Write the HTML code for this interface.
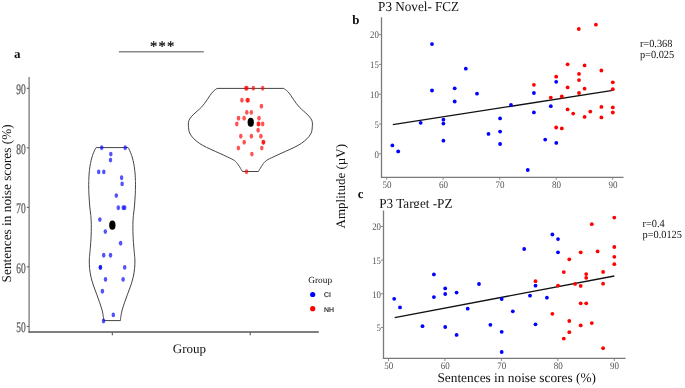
<!DOCTYPE html><html><head><meta charset="utf-8"><style>html,body{margin:0;padding:0;background:#fff;width:685px;height:388px;overflow:hidden}svg{display:block;text-rendering:geometricPrecision;will-change:transform;filter:blur(0.3px)}</style></head><body>
<svg width="685" height="388" viewBox="0 0 685 388" font-family="Liberation Serif, serif">
<rect width="685" height="388" fill="#fff"/>
<text x="14.1" y="58" font-size="13" font-weight="bold" fill="#111">a</text>
<line x1="118.9" y1="51.8" x2="203.8" y2="51.8" stroke="#8a8a8a" stroke-width="1.4"/>
<text x="162.8" y="50.7" font-size="14.5" fill="#111" stroke="#111" stroke-width="0.3" text-anchor="middle" letter-spacing="1.2">***</text>
<line x1="29.1" y1="77" x2="29.1" y2="332.6" stroke="#7a7a7a" stroke-width="1.3"/>
<line x1="28.5" y1="332.0" x2="318.8" y2="332.0" stroke="#555" stroke-width="1.3"/>
<line x1="26.8" y1="88.30" x2="29" y2="88.30" stroke="#555" stroke-width="1"/>
<text font-size="14.5" fill="#666" stroke="#666" stroke-width="0.35" text-anchor="end" transform="translate(25.6,94.10) scale(0.65,1)">90</text>
<line x1="26.8" y1="147.83" x2="29" y2="147.83" stroke="#555" stroke-width="1"/>
<text font-size="14.5" fill="#666" stroke="#666" stroke-width="0.35" text-anchor="end" transform="translate(25.6,153.63) scale(0.65,1)">80</text>
<line x1="26.8" y1="207.36" x2="29" y2="207.36" stroke="#555" stroke-width="1"/>
<text font-size="14.5" fill="#666" stroke="#666" stroke-width="0.35" text-anchor="end" transform="translate(25.6,213.16) scale(0.65,1)">70</text>
<line x1="26.8" y1="266.89" x2="29" y2="266.89" stroke="#555" stroke-width="1"/>
<text font-size="14.5" fill="#666" stroke="#666" stroke-width="0.35" text-anchor="end" transform="translate(25.6,272.69) scale(0.65,1)">60</text>
<line x1="26.8" y1="326.42" x2="29" y2="326.42" stroke="#555" stroke-width="1"/>
<text font-size="14.5" fill="#666" stroke="#666" stroke-width="0.35" text-anchor="end" transform="translate(25.6,332.22) scale(0.65,1)">50</text>
<line x1="112.3" y1="332.5" x2="112.3" y2="335.3" stroke="#444" stroke-width="1"/>
<line x1="250.2" y1="332.5" x2="250.2" y2="335.3" stroke="#444" stroke-width="1"/>
<text x="172.8" y="353.1" font-size="13" fill="#111">Group</text>
<text font-size="13.3" fill="#111" transform="translate(11.2,282.4) rotate(-90)">Sentences in noise scores (%)</text>
<path d="M128.10,147.60 C128.35,148.05 129.00,148.98 129.60,150.30 C130.20,151.62 131.12,153.78 131.70,155.50 C132.28,157.22 132.67,158.72 133.10,160.60 C133.53,162.48 133.97,164.57 134.30,166.80 C134.63,169.03 134.92,171.75 135.10,174.00 C135.28,176.25 135.33,178.30 135.40,180.30 C135.47,182.30 135.53,183.42 135.50,186.00 C135.47,188.58 135.37,192.47 135.20,195.80 C135.03,199.13 134.80,202.72 134.50,206.00 C134.20,209.28 133.67,212.38 133.40,215.50 C133.13,218.62 132.93,220.83 132.90,224.70 C132.87,228.57 132.97,234.05 133.20,238.70 C133.43,243.35 134.02,249.05 134.30,252.60 C134.58,256.15 134.85,257.37 134.90,260.00 C134.95,262.63 134.90,265.48 134.60,268.40 C134.30,271.32 133.77,274.57 133.10,277.50 C132.43,280.43 131.53,283.20 130.60,286.00 C129.67,288.80 128.52,291.52 127.50,294.30 C126.48,297.08 125.43,299.92 124.50,302.70 C123.57,305.48 122.53,308.48 121.90,311.00 C121.27,313.52 120.94,316.20 120.70,317.80 C120.46,319.40 120.49,320.13 120.45,320.60 L103.75,320.60 C103.71,320.13 103.74,319.40 103.50,317.80 C103.26,316.20 102.93,313.52 102.30,311.00 C101.67,308.48 100.63,305.48 99.70,302.70 C98.77,299.92 97.72,297.08 96.70,294.30 C95.68,291.52 94.53,288.80 93.60,286.00 C92.67,283.20 91.77,280.43 91.10,277.50 C90.43,274.57 89.90,271.32 89.60,268.40 C89.30,265.48 89.25,262.63 89.30,260.00 C89.35,257.37 89.62,256.15 89.90,252.60 C90.18,249.05 90.77,243.35 91.00,238.70 C91.23,234.05 91.33,228.57 91.30,224.70 C91.27,220.83 91.07,218.62 90.80,215.50 C90.53,212.38 90.00,209.28 89.70,206.00 C89.40,202.72 89.17,199.13 89.00,195.80 C88.83,192.47 88.73,188.58 88.70,186.00 C88.67,183.42 88.73,182.30 88.80,180.30 C88.87,178.30 88.92,176.25 89.10,174.00 C89.28,171.75 89.57,169.03 89.90,166.80 C90.23,164.57 90.67,162.48 91.10,160.60 C91.53,158.72 91.92,157.22 92.50,155.50 C93.08,153.78 94.00,151.62 94.60,150.30 C95.20,148.98 95.85,148.05 96.10,147.60 Z" fill="none" stroke="#444" stroke-width="1.0"/>
<path d="M283.80,88.40 C284.43,88.90 286.45,90.25 287.60,91.40 C288.75,92.55 289.75,94.00 290.70,95.30 C291.65,96.60 292.38,97.87 293.30,99.20 C294.22,100.53 295.18,101.97 296.20,103.30 C297.22,104.63 298.17,105.90 299.40,107.20 C300.63,108.50 302.20,109.82 303.60,111.10 C305.00,112.38 306.57,113.62 307.80,114.90 C309.03,116.18 310.23,117.50 311.00,118.80 C311.77,120.10 312.20,121.20 312.40,122.70 C312.60,124.20 312.33,126.27 312.20,127.80 C312.07,129.33 312.12,130.47 311.60,131.90 C311.08,133.33 310.27,134.90 309.10,136.40 C307.93,137.90 306.43,139.40 304.60,140.90 C302.77,142.40 300.52,144.00 298.10,145.40 C295.68,146.80 292.95,147.97 290.10,149.30 C287.25,150.63 283.82,152.12 281.00,153.40 C278.18,154.68 275.63,155.82 273.20,157.00 C270.77,158.18 268.13,159.27 266.40,160.50 C264.67,161.73 263.83,163.07 262.80,164.40 C261.77,165.73 260.95,167.32 260.20,168.50 C259.45,169.68 258.62,171.00 258.30,171.50 L242.50,171.50 C242.18,171.00 241.35,169.68 240.60,168.50 C239.85,167.32 239.03,165.73 238.00,164.40 C236.97,163.07 236.13,161.73 234.40,160.50 C232.67,159.27 230.03,158.18 227.60,157.00 C225.17,155.82 222.62,154.68 219.80,153.40 C216.98,152.12 213.55,150.63 210.70,149.30 C207.85,147.97 205.12,146.80 202.70,145.40 C200.28,144.00 198.03,142.40 196.20,140.90 C194.37,139.40 192.87,137.90 191.70,136.40 C190.53,134.90 189.72,133.33 189.20,131.90 C188.68,130.47 188.73,129.33 188.60,127.80 C188.47,126.27 188.20,124.20 188.40,122.70 C188.60,121.20 189.03,120.10 189.80,118.80 C190.57,117.50 191.77,116.18 193.00,114.90 C194.23,113.62 195.80,112.38 197.20,111.10 C198.60,109.82 200.17,108.50 201.40,107.20 C202.63,105.90 203.58,104.63 204.60,103.30 C205.62,101.97 206.58,100.53 207.50,99.20 C208.42,97.87 209.15,96.60 210.10,95.30 C211.05,94.00 212.05,92.55 213.20,91.40 C214.35,90.25 216.37,88.90 217.00,88.40 Z" fill="none" stroke="#444" stroke-width="1.0"/>
<ellipse cx="101.7" cy="147.7" rx="1.75" ry="2.45" fill="#0000ff" fill-opacity="0.68"/>
<ellipse cx="125.2" cy="147.7" rx="1.75" ry="2.45" fill="#0000ff" fill-opacity="0.68"/>
<ellipse cx="110.8" cy="154.1" rx="1.75" ry="2.45" fill="#0000ff" fill-opacity="0.68"/>
<ellipse cx="110.5" cy="160.1" rx="1.75" ry="2.45" fill="#0000ff" fill-opacity="0.68"/>
<ellipse cx="98.7" cy="171.9" rx="1.75" ry="2.45" fill="#0000ff" fill-opacity="0.68"/>
<ellipse cx="103.8" cy="171.9" rx="1.75" ry="2.45" fill="#0000ff" fill-opacity="0.68"/>
<ellipse cx="121.6" cy="177.7" rx="1.75" ry="2.45" fill="#0000ff" fill-opacity="0.68"/>
<ellipse cx="122.1" cy="183.9" rx="1.75" ry="2.45" fill="#0000ff" fill-opacity="0.68"/>
<ellipse cx="116.3" cy="195.6" rx="1.75" ry="2.45" fill="#0000ff" fill-opacity="0.68"/>
<ellipse cx="118.3" cy="207.7" rx="1.75" ry="2.45" fill="#0000ff" fill-opacity="0.68"/>
<ellipse cx="123.2" cy="207.7" rx="1.75" ry="2.45" fill="#0000ff" fill-opacity="0.68"/>
<ellipse cx="124.7" cy="207.7" rx="1.75" ry="2.45" fill="#0000ff" fill-opacity="0.68"/>
<ellipse cx="99.9" cy="219.6" rx="1.75" ry="2.45" fill="#0000ff" fill-opacity="0.68"/>
<ellipse cx="105.3" cy="231.6" rx="1.75" ry="2.45" fill="#0000ff" fill-opacity="0.68"/>
<ellipse cx="120.6" cy="243.3" rx="1.75" ry="2.45" fill="#0000ff" fill-opacity="0.68"/>
<ellipse cx="103.7" cy="255.3" rx="1.75" ry="2.45" fill="#0000ff" fill-opacity="0.68"/>
<ellipse cx="110.5" cy="255.3" rx="1.75" ry="2.45" fill="#0000ff" fill-opacity="0.68"/>
<ellipse cx="100.4" cy="267.4" rx="1.75" ry="2.45" fill="#0000ff" fill-opacity="0.68"/>
<ellipse cx="100.4" cy="267.4" rx="1.75" ry="2.45" fill="#0000ff" fill-opacity="0.68"/>
<ellipse cx="124.7" cy="267.4" rx="1.75" ry="2.45" fill="#0000ff" fill-opacity="0.68"/>
<ellipse cx="105.5" cy="279.4" rx="1.75" ry="2.45" fill="#0000ff" fill-opacity="0.68"/>
<ellipse cx="123.1" cy="279.4" rx="1.75" ry="2.45" fill="#0000ff" fill-opacity="0.68"/>
<ellipse cx="102.4" cy="291.2" rx="1.75" ry="2.45" fill="#0000ff" fill-opacity="0.68"/>
<ellipse cx="113.3" cy="314.9" rx="1.75" ry="2.45" fill="#0000ff" fill-opacity="0.68"/>
<ellipse cx="103.5" cy="321.0" rx="1.75" ry="2.45" fill="#0000ff" fill-opacity="0.68"/>
<ellipse cx="245.9" cy="88.2" rx="1.75" ry="2.45" fill="#ff0000" fill-opacity="0.68"/>
<ellipse cx="246.9" cy="88.2" rx="1.75" ry="2.45" fill="#ff0000" fill-opacity="0.68"/>
<ellipse cx="253.3" cy="88.2" rx="1.75" ry="2.45" fill="#ff0000" fill-opacity="0.68"/>
<ellipse cx="262.7" cy="88.2" rx="1.75" ry="2.45" fill="#ff0000" fill-opacity="0.68"/>
<ellipse cx="241.9" cy="100.3" rx="1.75" ry="2.45" fill="#ff0000" fill-opacity="0.68"/>
<ellipse cx="247.2" cy="100.3" rx="1.75" ry="2.45" fill="#ff0000" fill-opacity="0.68"/>
<ellipse cx="248.2" cy="100.3" rx="1.75" ry="2.45" fill="#ff0000" fill-opacity="0.68"/>
<ellipse cx="261.4" cy="106.3" rx="1.75" ry="2.45" fill="#ff0000" fill-opacity="0.68"/>
<ellipse cx="246.8" cy="112.4" rx="1.75" ry="2.45" fill="#ff0000" fill-opacity="0.68"/>
<ellipse cx="251.3" cy="112.4" rx="1.75" ry="2.45" fill="#ff0000" fill-opacity="0.68"/>
<ellipse cx="238.5" cy="118.2" rx="1.75" ry="2.45" fill="#ff0000" fill-opacity="0.68"/>
<ellipse cx="244.1" cy="118.2" rx="1.75" ry="2.45" fill="#ff0000" fill-opacity="0.68"/>
<ellipse cx="259.0" cy="118.2" rx="1.75" ry="2.45" fill="#ff0000" fill-opacity="0.68"/>
<ellipse cx="236.8" cy="124.0" rx="1.75" ry="2.45" fill="#ff0000" fill-opacity="0.68"/>
<ellipse cx="258.2" cy="124.0" rx="1.75" ry="2.45" fill="#ff0000" fill-opacity="0.68"/>
<ellipse cx="258.8" cy="124.0" rx="1.75" ry="2.45" fill="#ff0000" fill-opacity="0.68"/>
<ellipse cx="262.7" cy="124.0" rx="1.75" ry="2.45" fill="#ff0000" fill-opacity="0.68"/>
<ellipse cx="258.1" cy="130.3" rx="1.75" ry="2.45" fill="#ff0000" fill-opacity="0.68"/>
<ellipse cx="240.8" cy="136.3" rx="1.75" ry="2.45" fill="#ff0000" fill-opacity="0.68"/>
<ellipse cx="251.4" cy="136.3" rx="1.75" ry="2.45" fill="#ff0000" fill-opacity="0.68"/>
<ellipse cx="260.9" cy="136.3" rx="1.75" ry="2.45" fill="#ff0000" fill-opacity="0.68"/>
<ellipse cx="244.2" cy="142.3" rx="1.75" ry="2.45" fill="#ff0000" fill-opacity="0.68"/>
<ellipse cx="263.2" cy="142.3" rx="1.75" ry="2.45" fill="#ff0000" fill-opacity="0.68"/>
<ellipse cx="263.6" cy="142.3" rx="1.75" ry="2.45" fill="#ff0000" fill-opacity="0.68"/>
<ellipse cx="238.4" cy="148.1" rx="1.75" ry="2.45" fill="#ff0000" fill-opacity="0.68"/>
<ellipse cx="261.8" cy="148.1" rx="1.75" ry="2.45" fill="#ff0000" fill-opacity="0.68"/>
<ellipse cx="251.9" cy="154.1" rx="1.75" ry="2.45" fill="#ff0000" fill-opacity="0.68"/>
<ellipse cx="246.5" cy="171.8" rx="1.75" ry="2.45" fill="#ff0000" fill-opacity="0.68"/>
<ellipse cx="112.35" cy="225.15" rx="3.15" ry="4.55" fill="#000"/>
<ellipse cx="250.75" cy="122.3" rx="3.15" ry="4.55" fill="#000"/>
<text x="308.3" y="282.9" font-size="9.3" fill="#111">Group</text>
<circle cx="312.7" cy="294.5" r="2.6" fill="#0000ff"/>
<circle cx="312.7" cy="308.7" r="2.6" fill="#ff0000"/>
<text x="324" y="297.4" font-size="6.9" fill="#222" stroke="#222" stroke-width="0.18" font-family="Liberation Sans, sans-serif">CI</text>
<text x="324" y="311.9" font-size="6.9" fill="#222" stroke="#222" stroke-width="0.18" font-family="Liberation Sans, sans-serif">NH</text>
<text x="352.3" y="23.8" font-size="12.9" font-weight="bold" fill="#111">b</text>
<text font-size="13.7" fill="#111" transform="translate(378.1,10.5) scale(0.96,1)">P3 Novel- FCZ</text>
<line x1="381.5" y1="17.3" x2="381.5" y2="177.9" stroke="#7a7a7a" stroke-width="1.3"/>
<line x1="380.9" y1="177.4" x2="623.5" y2="177.4" stroke="#7a7a7a" stroke-width="1.3"/>
<line x1="378.8" y1="34.60" x2="381.5" y2="34.60" stroke="#7a7a7a" stroke-width="0.9"/>
<text font-size="10" fill="#555" text-anchor="end" transform="translate(378.8,38.40) scale(0.88,1)">20</text>
<line x1="378.8" y1="64.40" x2="381.5" y2="64.40" stroke="#7a7a7a" stroke-width="0.9"/>
<text font-size="10" fill="#555" text-anchor="end" transform="translate(378.8,68.20) scale(0.88,1)">15</text>
<line x1="378.8" y1="94.20" x2="381.5" y2="94.20" stroke="#7a7a7a" stroke-width="0.9"/>
<text font-size="10" fill="#555" text-anchor="end" transform="translate(378.8,98.00) scale(0.88,1)">10</text>
<line x1="378.8" y1="124.00" x2="381.5" y2="124.00" stroke="#7a7a7a" stroke-width="0.9"/>
<text font-size="10" fill="#555" text-anchor="end" transform="translate(378.8,127.80) scale(0.88,1)">5</text>
<line x1="378.8" y1="153.80" x2="381.5" y2="153.80" stroke="#7a7a7a" stroke-width="0.9"/>
<text font-size="10" fill="#555" text-anchor="end" transform="translate(378.8,157.60) scale(0.88,1)">0</text>
<line x1="386.70" y1="177.4" x2="386.70" y2="179.8" stroke="#7a7a7a" stroke-width="0.9"/>
<text font-size="10" fill="#555" text-anchor="middle" transform="translate(387.00,188.1) scale(0.9,1)">50</text>
<line x1="443.20" y1="177.4" x2="443.20" y2="179.8" stroke="#7a7a7a" stroke-width="0.9"/>
<text font-size="10" fill="#555" text-anchor="middle" transform="translate(443.50,188.1) scale(0.9,1)">60</text>
<line x1="499.70" y1="177.4" x2="499.70" y2="179.8" stroke="#7a7a7a" stroke-width="0.9"/>
<text font-size="10" fill="#555" text-anchor="middle" transform="translate(500.00,188.1) scale(0.9,1)">70</text>
<line x1="556.20" y1="177.4" x2="556.20" y2="179.8" stroke="#7a7a7a" stroke-width="0.9"/>
<text font-size="10" fill="#555" text-anchor="middle" transform="translate(556.50,188.1) scale(0.9,1)">80</text>
<line x1="612.70" y1="177.4" x2="612.70" y2="179.8" stroke="#7a7a7a" stroke-width="0.9"/>
<text font-size="10" fill="#555" text-anchor="middle" transform="translate(613.00,188.1) scale(0.9,1)">90</text>
<line x1="392.8" y1="124.7" x2="612.8" y2="90.4" stroke="#111" stroke-width="1.3"/>
<circle cx="432.0" cy="44.1" r="1.90" fill="#0000ff"/>
<circle cx="465.8" cy="68.7" r="1.90" fill="#0000ff"/>
<circle cx="432.0" cy="90.5" r="1.90" fill="#0000ff"/>
<circle cx="454.7" cy="88.3" r="1.90" fill="#0000ff"/>
<circle cx="477.0" cy="93.7" r="1.90" fill="#0000ff"/>
<circle cx="454.7" cy="101.5" r="1.90" fill="#0000ff"/>
<circle cx="511.0" cy="104.9" r="1.90" fill="#0000ff"/>
<circle cx="500.1" cy="118.4" r="1.90" fill="#0000ff"/>
<circle cx="420.7" cy="122.8" r="1.90" fill="#0000ff"/>
<circle cx="443.4" cy="119.7" r="1.90" fill="#0000ff"/>
<circle cx="443.4" cy="123.6" r="1.90" fill="#0000ff"/>
<circle cx="488.5" cy="133.9" r="1.90" fill="#0000ff"/>
<circle cx="500.1" cy="131.6" r="1.90" fill="#0000ff"/>
<circle cx="443.4" cy="140.7" r="1.90" fill="#0000ff"/>
<circle cx="500.1" cy="144.0" r="1.90" fill="#0000ff"/>
<circle cx="392.4" cy="145.4" r="1.90" fill="#0000ff"/>
<circle cx="398.2" cy="151.4" r="1.90" fill="#0000ff"/>
<circle cx="527.8" cy="170.0" r="1.90" fill="#0000ff"/>
<circle cx="556.2" cy="81.8" r="1.90" fill="#0000ff"/>
<circle cx="533.9" cy="93.0" r="1.90" fill="#0000ff"/>
<circle cx="550.8" cy="106.2" r="1.90" fill="#0000ff"/>
<circle cx="533.9" cy="112.4" r="1.90" fill="#0000ff"/>
<circle cx="545.2" cy="139.6" r="1.90" fill="#0000ff"/>
<circle cx="556.3" cy="142.9" r="1.90" fill="#0000ff"/>
<circle cx="595.9" cy="24.7" r="1.90" fill="#ff0000"/>
<circle cx="578.8" cy="29.0" r="1.90" fill="#ff0000"/>
<circle cx="567.6" cy="64.3" r="1.90" fill="#ff0000"/>
<circle cx="584.6" cy="65.4" r="1.90" fill="#ff0000"/>
<circle cx="601.4" cy="70.5" r="1.90" fill="#ff0000"/>
<circle cx="556.2" cy="76.7" r="1.90" fill="#ff0000"/>
<circle cx="579.0" cy="73.9" r="1.90" fill="#ff0000"/>
<circle cx="579.0" cy="80.1" r="1.90" fill="#ff0000"/>
<circle cx="612.8" cy="82.3" r="1.90" fill="#ff0000"/>
<circle cx="533.9" cy="84.8" r="1.90" fill="#ff0000"/>
<circle cx="567.6" cy="87.4" r="1.90" fill="#ff0000"/>
<circle cx="584.6" cy="88.7" r="1.90" fill="#ff0000"/>
<circle cx="612.8" cy="89.2" r="1.90" fill="#ff0000"/>
<circle cx="579.0" cy="93.0" r="1.90" fill="#ff0000"/>
<circle cx="550.8" cy="97.6" r="1.90" fill="#ff0000"/>
<circle cx="561.8" cy="96.5" r="1.90" fill="#ff0000"/>
<circle cx="567.6" cy="109.4" r="1.90" fill="#ff0000"/>
<circle cx="573.2" cy="113.6" r="1.90" fill="#ff0000"/>
<circle cx="584.6" cy="116.9" r="1.90" fill="#ff0000"/>
<circle cx="590.3" cy="111.6" r="1.90" fill="#ff0000"/>
<circle cx="601.4" cy="106.9" r="1.90" fill="#ff0000"/>
<circle cx="601.4" cy="117.4" r="1.90" fill="#ff0000"/>
<circle cx="612.8" cy="107.4" r="1.90" fill="#ff0000"/>
<circle cx="612.8" cy="112.5" r="1.90" fill="#ff0000"/>
<circle cx="556.2" cy="127.5" r="1.90" fill="#ff0000"/>
<circle cx="561.8" cy="128.4" r="1.90" fill="#ff0000"/>
<text font-size="10.9" fill="#111" transform="translate(639.9,46.9) scale(0.95,1)">r=0.368</text>
<text font-size="10.9" fill="#111" transform="translate(639.9,57.8) scale(0.95,1)">p=0.025</text>
<text x="357.7" y="198.3" font-size="12.8" font-weight="bold" fill="#111">c</text>
<text font-size="13" fill="#111" transform="translate(344.8,228.4) rotate(-90)">Amplitude (µV)</text>
<text font-size="13.8" fill="#111" transform="translate(379.2,207.6) scale(0.955,1)">P3 Target -PZ</text>
<rect x="370" y="207.9" width="100" height="4" fill="#fff"/>
<line x1="383.5" y1="210.5" x2="383.5" y2="359.0" stroke="#7a7a7a" stroke-width="1.3"/>
<line x1="382.9" y1="358.35" x2="625.6" y2="358.35" stroke="#7a7a7a" stroke-width="1.3"/>
<line x1="380.9" y1="226.50" x2="383.6" y2="226.50" stroke="#7a7a7a" stroke-width="0.9"/>
<text font-size="10" fill="#555" text-anchor="end" transform="translate(381.0,230.30) scale(0.88,1)">20</text>
<line x1="380.9" y1="260.15" x2="383.6" y2="260.15" stroke="#7a7a7a" stroke-width="0.9"/>
<text font-size="10" fill="#555" text-anchor="end" transform="translate(381.0,263.95) scale(0.88,1)">15</text>
<line x1="380.9" y1="293.80" x2="383.6" y2="293.80" stroke="#7a7a7a" stroke-width="0.9"/>
<text font-size="10" fill="#555" text-anchor="end" transform="translate(381.0,297.60) scale(0.88,1)">10</text>
<line x1="380.9" y1="327.45" x2="383.6" y2="327.45" stroke="#7a7a7a" stroke-width="0.9"/>
<text font-size="10" fill="#555" text-anchor="end" transform="translate(381.0,331.25) scale(0.88,1)">5</text>
<line x1="388.50" y1="358.4" x2="388.50" y2="361.1" stroke="#7a7a7a" stroke-width="0.9"/>
<text font-size="10" fill="#555" text-anchor="middle" transform="translate(388.80,368.6) scale(0.9,1)">50</text>
<line x1="444.95" y1="358.4" x2="444.95" y2="361.1" stroke="#7a7a7a" stroke-width="0.9"/>
<text font-size="10" fill="#555" text-anchor="middle" transform="translate(445.25,368.6) scale(0.9,1)">60</text>
<line x1="501.40" y1="358.4" x2="501.40" y2="361.1" stroke="#7a7a7a" stroke-width="0.9"/>
<text font-size="10" fill="#555" text-anchor="middle" transform="translate(501.70,368.6) scale(0.9,1)">70</text>
<line x1="557.85" y1="358.4" x2="557.85" y2="361.1" stroke="#7a7a7a" stroke-width="0.9"/>
<text font-size="10" fill="#555" text-anchor="middle" transform="translate(558.15,368.6) scale(0.9,1)">80</text>
<line x1="614.30" y1="358.4" x2="614.30" y2="361.1" stroke="#7a7a7a" stroke-width="0.9"/>
<text font-size="10" fill="#555" text-anchor="middle" transform="translate(614.60,368.6) scale(0.9,1)">90</text>
<line x1="394.7" y1="317.6" x2="614.3" y2="276.0" stroke="#111" stroke-width="1.3"/>
<circle cx="433.9" cy="274.4" r="1.90" fill="#0000ff"/>
<circle cx="445.2" cy="288.4" r="1.90" fill="#0000ff"/>
<circle cx="479.0" cy="284.0" r="1.90" fill="#0000ff"/>
<circle cx="394.2" cy="298.8" r="1.90" fill="#0000ff"/>
<circle cx="400.0" cy="307.4" r="1.90" fill="#0000ff"/>
<circle cx="433.9" cy="297.1" r="1.90" fill="#0000ff"/>
<circle cx="445.2" cy="294.0" r="1.90" fill="#0000ff"/>
<circle cx="456.6" cy="292.6" r="1.90" fill="#0000ff"/>
<circle cx="501.7" cy="299.0" r="1.90" fill="#0000ff"/>
<circle cx="467.7" cy="308.7" r="1.90" fill="#0000ff"/>
<circle cx="422.5" cy="326.2" r="1.90" fill="#0000ff"/>
<circle cx="445.2" cy="327.0" r="1.90" fill="#0000ff"/>
<circle cx="490.4" cy="324.8" r="1.90" fill="#0000ff"/>
<circle cx="501.7" cy="331.8" r="1.90" fill="#0000ff"/>
<circle cx="456.6" cy="334.9" r="1.90" fill="#0000ff"/>
<circle cx="501.7" cy="352.0" r="1.90" fill="#0000ff"/>
<circle cx="552.4" cy="234.5" r="1.90" fill="#0000ff"/>
<circle cx="558.0" cy="239.1" r="1.90" fill="#0000ff"/>
<circle cx="524.2" cy="249.0" r="1.90" fill="#0000ff"/>
<circle cx="558.0" cy="252.3" r="1.90" fill="#0000ff"/>
<circle cx="535.5" cy="285.7" r="1.90" fill="#0000ff"/>
<circle cx="530.0" cy="295.7" r="1.90" fill="#0000ff"/>
<circle cx="546.9" cy="297.7" r="1.90" fill="#0000ff"/>
<circle cx="512.8" cy="311.3" r="1.90" fill="#0000ff"/>
<circle cx="535.5" cy="324.3" r="1.90" fill="#0000ff"/>
<circle cx="614.3" cy="217.6" r="1.90" fill="#ff0000"/>
<circle cx="591.8" cy="224.2" r="1.90" fill="#ff0000"/>
<circle cx="614.3" cy="247.0" r="1.90" fill="#ff0000"/>
<circle cx="580.7" cy="252.3" r="1.90" fill="#ff0000"/>
<circle cx="597.6" cy="251.4" r="1.90" fill="#ff0000"/>
<circle cx="614.3" cy="256.8" r="1.90" fill="#ff0000"/>
<circle cx="569.3" cy="259.3" r="1.90" fill="#ff0000"/>
<circle cx="614.3" cy="264.2" r="1.90" fill="#ff0000"/>
<circle cx="563.8" cy="272.1" r="1.90" fill="#ff0000"/>
<circle cx="586.2" cy="274.1" r="1.90" fill="#ff0000"/>
<circle cx="586.2" cy="277.8" r="1.90" fill="#ff0000"/>
<circle cx="603.1" cy="271.9" r="1.90" fill="#ff0000"/>
<circle cx="535.5" cy="281.2" r="1.90" fill="#ff0000"/>
<circle cx="558.0" cy="285.6" r="1.90" fill="#ff0000"/>
<circle cx="575.1" cy="283.9" r="1.90" fill="#ff0000"/>
<circle cx="580.7" cy="285.9" r="1.90" fill="#ff0000"/>
<circle cx="603.1" cy="283.7" r="1.90" fill="#ff0000"/>
<circle cx="580.7" cy="303.3" r="1.90" fill="#ff0000"/>
<circle cx="586.2" cy="303.3" r="1.90" fill="#ff0000"/>
<circle cx="552.4" cy="313.8" r="1.90" fill="#ff0000"/>
<circle cx="569.3" cy="321.0" r="1.90" fill="#ff0000"/>
<circle cx="580.7" cy="325.4" r="1.90" fill="#ff0000"/>
<circle cx="591.8" cy="323.1" r="1.90" fill="#ff0000"/>
<circle cx="569.3" cy="332.2" r="1.90" fill="#ff0000"/>
<circle cx="563.8" cy="338.6" r="1.90" fill="#ff0000"/>
<circle cx="603.1" cy="348.2" r="1.90" fill="#ff0000"/>
<text font-size="10.9" fill="#111" transform="translate(642.5,226.9) scale(0.95,1)">r=0.4</text>
<text font-size="10.9" fill="#111" transform="translate(642.5,238.2) scale(0.95,1)">p=0.0125</text>
<text x="437.4" y="381.8" font-size="13.35" fill="#111">Sentences in noise scores (%)</text>
</svg></body></html>
